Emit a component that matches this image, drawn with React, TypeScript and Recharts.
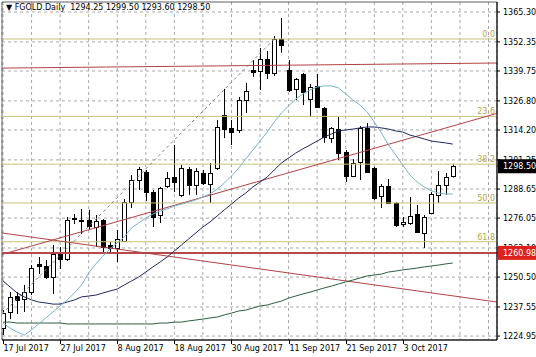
import React from 'react';
import {
  ComposedChart,
  Bar,
  Line,
  XAxis,
  YAxis,
  CartesianGrid,
  ReferenceLine,
  ReferenceArea,
} from 'recharts';

// velas diarias FGOLD, 17 jul 2017 -> 12 oct 2017
const opens = [
  1228.4, 1235.4, 1242.3, 1241.0, 1244.0, 1256.2, 1255.3, 1250.5, 1260.5, 1258.3,
  1275.6, 1275.2, 1275.2, 1272.2, 1275.2, 1264.4, 1263.1, 1266.1, 1283.0, 1292.5,
  1296.0, 1287.3, 1277.4, 1289.9, 1293.8, 1286.1, 1297.3, 1290.4, 1295.6, 1290.8,
  1297.7, 1320.7, 1315.1, 1314.2, 1327.2, 1340.2, 1339.8, 1345.0, 1338.9, 1353.6,
  1340.2, 1332.0, 1338.5, 1327.6, 1333.3, 1323.7, 1310.7, 1314.6, 1304.7, 1294.3,
  1300.3, 1315.1, 1297.7, 1285.6, 1289.9, 1282.6, 1273.5, 1273.9, 1277.8, 1269.6,
  1278.2, 1286.1, 1290.4, 1294.25,
];
const highs = [
  1236.2, 1244.0, 1244.0, 1247.1, 1255.7, 1259.2, 1257.9, 1264.4, 1263.5, 1276.5,
  1277.8, 1280.0, 1279.6, 1277.4, 1275.6, 1265.7, 1270.9, 1284.3, 1294.7, 1298.2,
  1296.9, 1288.2, 1289.5, 1296.0, 1307.7, 1299.0, 1298.2, 1297.7, 1296.9, 1299.9,
  1318.5, 1332.0, 1318.5, 1328.5, 1334.6, 1344.5, 1349.7, 1348.4, 1354.9, 1362.7,
  1344.5, 1336.7, 1338.9, 1334.1, 1338.5, 1324.2, 1315.5, 1319.8, 1305.5, 1301.6,
  1315.9, 1317.2, 1298.2, 1290.8, 1293.0, 1283.0, 1276.5, 1285.2, 1281.7, 1277.4,
  1287.3, 1296.4, 1295.6, 1299.5,
];
const lows = [
  1225.4, 1232.3, 1234.5, 1235.4, 1242.7, 1251.8, 1249.7, 1243.2, 1254.0, 1257.5,
  1273.5, 1269.2, 1270.9, 1263.5, 1260.9, 1261.4, 1257.0, 1265.7, 1280.4, 1288.2,
  1283.5, 1272.2, 1273.9, 1289.1, 1287.3, 1285.2, 1286.1, 1286.1, 1290.4, 1282.6,
  1296.9, 1310.7, 1307.7, 1312.9, 1321.6, 1337.2, 1331.5, 1336.3, 1337.6, 1347.6,
  1330.7, 1327.2, 1325.0, 1319.8, 1323.7, 1308.6, 1308.6, 1301.2, 1291.7, 1293.8,
  1292.5, 1295.6, 1283.9, 1280.4, 1282.2, 1272.2, 1272.2, 1273.1, 1269.6, 1263.1,
  1277.8, 1282.6, 1286.1, 1293.6,
];
const closes = [
  1234.9, 1241.9, 1240.6, 1244.0, 1254.4, 1255.3, 1250.5, 1260.5, 1258.3, 1275.2,
  1276.1, 1274.8, 1272.6, 1274.8, 1263.5, 1263.1, 1267.0, 1283.0, 1292.5, 1297.3,
  1287.3, 1276.5, 1289.1, 1293.4, 1291.7, 1297.7, 1290.4, 1296.4, 1291.2, 1295.6,
  1315.5, 1314.6, 1313.3, 1327.2, 1331.1, 1339.3, 1345.0, 1338.9, 1353.6, 1351.0,
  1331.5, 1336.3, 1330.7, 1332.8, 1324.2, 1311.2, 1315.1, 1304.2, 1294.3, 1299.9,
  1315.1, 1296.0, 1284.8, 1289.9, 1282.6, 1273.1, 1274.4, 1277.0, 1270.0, 1276.5,
  1286.5, 1290.4, 1293.8, 1298.5,
];

// medias moviles
const maFast = [
  1230.6, 1228.4, 1226.7, 1225.4, 1227.6, 1230.2, 1232.8, 1235.4, 1238.0, 1240.6,
  1243.6, 1247.1, 1252.3, 1256.2, 1259.6, 1262.7, 1265.3, 1267.9, 1271.8, 1273.9,
  1276.1, 1277.8, 1279.1, 1280.0, 1281.3, 1282.1, 1283.0, 1283.9, 1285.2, 1286.5,
  1288.6, 1291.2, 1294.3, 1297.7, 1301.6, 1305.5, 1309.4, 1313.3, 1317.7, 1321.6,
  1324.6, 1327.6, 1329.8, 1331.5, 1332.8, 1333.3, 1333.3, 1332.4, 1329.8, 1327.2,
  1325.0, 1322.0, 1317.7, 1312.9, 1307.7, 1303.4, 1299.0, 1294.7, 1291.7, 1289.5,
  1287.8, 1286.9, 1286.5, 1286.5,
];
const maMid = [
  1248.8, 1246.2, 1243.6, 1241.9, 1240.6, 1239.7, 1239.3, 1238.8, 1238.8, 1239.7,
  1240.6, 1241.9, 1242.3, 1242.7, 1243.6, 1244.5, 1245.3, 1247.1, 1248.8, 1250.5,
  1252.7, 1254.9, 1257.0, 1259.2, 1261.8, 1264.4, 1267.0, 1269.6, 1272.2, 1274.4,
  1277.0, 1279.6, 1282.1, 1284.7, 1286.9, 1289.5, 1291.7, 1293.8, 1296.9, 1299.9,
  1302.1, 1304.2, 1306.0, 1307.7, 1309.4, 1311.2, 1312.5, 1313.8, 1314.2, 1314.6,
  1315.1, 1315.5, 1315.5, 1315.1, 1314.6, 1313.8, 1313.3, 1312.0, 1311.2, 1310.3,
  1309.4, 1309.0, 1308.6, 1308.1,
];
const maSlow = [
  1231.0, 1231.0, 1230.6, 1230.6, 1230.6, 1230.6, 1230.6, 1230.6, 1230.6, 1230.2,
  1230.2, 1230.2, 1230.2, 1230.2, 1230.2, 1230.2, 1230.2, 1230.2, 1230.2, 1230.2,
  1230.2, 1230.2, 1230.6, 1230.6, 1231.0, 1231.0, 1231.5, 1231.9, 1232.3, 1232.8,
  1233.2, 1234.1, 1234.9, 1235.8, 1236.2, 1237.1, 1238.0, 1238.4, 1239.3, 1240.1,
  1241.4, 1242.3, 1243.2, 1244.0, 1244.9, 1245.8, 1246.6, 1247.5, 1248.4, 1249.2,
  1250.1, 1251.0, 1251.4, 1251.8, 1252.7, 1253.1, 1253.6, 1254.0, 1254.4, 1254.9,
  1255.3, 1255.7, 1256.2, 1256.6,
];

// etiquetas del eje X (una cada 8 velas) y del eje de precios
const tickDates = [
  '17 Jul 2017', '27 Jul 2017', '8 Aug 2017', '18 Aug 2017',
  '30 Aug 2017', '11 Sep 2017', '21 Sep 2017', '3 Oct 2017',
];
const priceTicks = [
  1224.95, 1237.55, 1250.5, 1263.1, 1276.05, 1288.65,
  1301.25, 1314.2, 1326.8, 1339.75, 1352.35, 1365.3,
];

// niveles de Fibonacci
const fibLevels = [1353.6, 1320.1, 1299.4, 1282.6, 1265.8];
const fibNames = ['0.0', '23.6', '38.2', '50.0', '61.8'];

// lineas de tendencia [indice, precio]
const X_MIN = -0.14;
const X_MAX = 69.19;
const Y_MIN = 1223.25;
const Y_MAX = 1369.63;
const trendUp = [[X_MIN, 1260.3], [X_MAX, 1321.4]];
const trendDown = [[X_MIN, 1269.6], [X_MAX, 1239.7]];
const trendTop = [[X_MIN, 1341.0], [X_MAX, 1343.2]];
const fibBase = [[X_MIN, 1234.5], [38, 1353.6]];
const supportLevel = 1260.98;
const lastPrice = 1298.5;

const FONT = 'DejaVu Sans, sans-serif';

const chartData = opens.map((o, i) => ({
  i,
  open: o,
  high: highs[i],
  low: lows[i],
  close: closes[i],
  maFast: maFast[i],
  maMid: maMid[i],
  maSlow: maSlow[i],
}));

const gridTicks: number[] = [];
for (let t = 0; t <= 68; t += 4) gridTicks.push(t);

// las etiquetas de precio van al final para quedar encima
const yTicks = [...priceTicks, lastPrice, supportLevel];

const Candle = (props: any) => {
  const { x, y, width, height, payload } = props;
  if (!payload) return null;
  const { open, close, high, low } = payload;
  const top = Math.min(y, y + height);
  const bot = Math.max(y, y + height);
  const span = high - low || 1;
  const py = (v: number) => top + ((high - v) / span) * (bot - top);
  const cx = Math.round(x + width / 2) + 0.5;
  const yo = py(open);
  const yc = py(close);
  const bull = close >= open;
  const bt = Math.round(Math.min(yo, yc)) + 0.5;
  const bb = Math.max(Math.round(Math.max(yo, yc)) + 0.5, bt + 1);
  return (
    <g>
      <line x1={cx} x2={cx} y1={top} y2={bot} stroke="#000" strokeWidth={1} />
      <rect
        x={cx - 2}
        y={bt}
        width={4}
        height={bb - bt}
        fill={bull ? '#fff' : '#000'}
        stroke="#000"
        strokeWidth={1}
      />
    </g>
  );
};

const XTick = (props: any) => {
  const { x, y, payload } = props;
  const i = payload.value;
  if (i % 8 !== 0) return null;
  const label = tickDates[i / 8];
  if (!label) return null;
  const lx = Math.round(x) + 0.5;
  return (
    <g>
      <line x1={lx} x2={lx} y1={y} y2={y + 4} stroke="#000" />
      <text x={lx} y={y + 11} fontSize={8} fontFamily={FONT} fill="#000">
        {label}
      </text>
    </g>
  );
};

const YTick = (props: any) => {
  const { x, y, payload } = props;
  const v = payload.value;
  if (v === lastPrice || v === supportLevel) {
    const bg = v === supportLevel ? '#e0201c' : '#000';
    return (
      <g>
        <rect x={x - 5} y={y - 7} width={40} height={14} fill={bg} />
        <text x={x} y={y + 3} fontSize={8} fontFamily={FONT} fill="#fff">
          {v.toFixed(2)}
        </text>
      </g>
    );
  }
  return (
    <text x={x} y={y + 3} fontSize={8} fontFamily={FONT} fill="#000">
      {v.toFixed(2)}
    </text>
  );
};

const FibText = (props: any) => {
  const { viewBox, text } = props;
  if (!viewBox) return null;
  return (
    <text
      x={viewBox.x + viewBox.width - 2}
      y={viewBox.y - 2}
      textAnchor="end"
      fontSize={8}
      fontFamily={FONT}
      fill="#b4a458"
    >
      {text}
    </text>
  );
};

const seg = (p: number[][]) => [
  { x: p[0][0], y: p[0][1] },
  { x: p[1][0], y: p[1][1] },
];

const App: React.FC = () => {
  return (
    <div style={{ position: 'absolute', left: 0, top: 0, width: 536, height: 357, background: '#fff' }}>
      <ComposedChart
        width={536}
        height={357}
        data={chartData}
        margin={{ top: 2, right: 0, bottom: 0, left: 2 }}
      >
        <CartesianGrid
          stroke="#a8a8a8"
          strokeDasharray="3 3"
          horizontalValues={priceTicks}
        />
        <XAxis
          type="number"
          dataKey="i"
          domain={[X_MIN, X_MAX]}
          ticks={gridTicks}
          interval={0}
          allowDataOverflow
          height={17}
          tickSize={0}
          tickMargin={0}
          tickLine={false}
          tick={<XTick />}
          axisLine={{ stroke: '#000' }}
        />
        <YAxis
          orientation="right"
          domain={[Y_MIN, Y_MAX]}
          ticks={yTicks}
          interval={0}
          allowDataOverflow
          width={39}
          tickSize={3}
          tickMargin={3}
          tick={<YTick />}
          tickLine={{ stroke: '#000' }}
          axisLine={{ stroke: '#000' }}
        />
        <ReferenceArea
          x1={X_MIN}
          x2={X_MAX}
          y1={Y_MIN}
          y2={Y_MAX}
          fill="none"
          stroke="#606060"
          ifOverflow="visible"
        />
        {fibLevels.map((lv, k) => (
          <ReferenceLine
            key={fibNames[k]}
            y={lv}
            stroke="#c8c27a"
            strokeWidth={1}
            label={<FibText text={fibNames[k]} />}
          />
        ))}
        <ReferenceLine y={supportLevel} stroke="#b8484a" strokeWidth={2} />
        <ReferenceLine segment={seg(trendTop)} stroke="#b04446" ifOverflow="hidden" />
        <ReferenceLine segment={seg(trendUp)} stroke="#b04446" ifOverflow="hidden" />
        <ReferenceLine segment={seg(trendDown)} stroke="#b04446" ifOverflow="hidden" />
        <ReferenceLine
          segment={seg(fibBase)}
          stroke="#808080"
          strokeDasharray="3 3"
          ifOverflow="hidden"
        />
        <Line dataKey="maSlow" stroke="#2e5e3c" strokeWidth={1} dot={false} isAnimationActive={false} />
        <Line dataKey="maMid" stroke="#1e2a5e" strokeWidth={1} dot={false} isAnimationActive={false} />
        <Line dataKey="maFast" stroke="#78b4cc" strokeWidth={1} dot={false} isAnimationActive={false} />
        <Bar
          dataKey={(d: any) => [d.low, d.high]}
          barSize={5}
          shape={<Candle />}
          isAnimationActive={false}
        />
      </ComposedChart>
      <div
        style={{
          position: 'absolute',
          left: 6,
          top: 3,
          fontFamily: FONT,
          fontSize: 8,
          color: '#000',
          whiteSpace: 'pre',
        }}
      >
        {'▼ FGOLD.Daily  1294.25 1299.50 1293.60 1298.50'}
      </div>
    </div>
  );
};

export default App;
